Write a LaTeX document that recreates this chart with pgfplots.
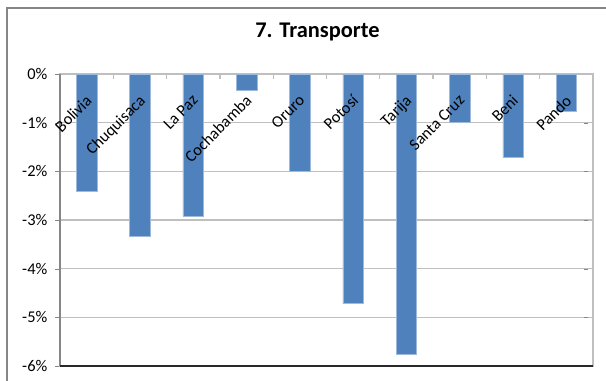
\documentclass[border=0pt]{standalone}
\usepackage{fontspec}
\setmainfont{Carlito}
\usepackage{pgfplots}
\pgfplotsset{compat=1.18}
\usetikzlibrary{calc}
\definecolor{barblue}{RGB}{79,129,189}
\definecolor{gridgray}{RGB}{191,191,191}
\definecolor{axisgray}{RGB}{134,134,134}
\definecolor{darkaxis}{RGB}{40,40,40}
\pgfplotsset{
  layers/labels over bars/.define layer set={
    axis background,axis grid,axis ticks,axis lines,pre main,main,
    axis tick labels,axis descriptions,axis foreground}{/pgfplots/layers/standard},
}

\begin{document}
\begin{tikzpicture}
\begin{axis}[
  name=ax,
  set layers=labels over bars,
  scale only axis,
  width=399.75pt, height=219pt,
  xmin=-0.5, xmax=9.5,
  ymin=-6, ymax=0,
  font=\fontsize{12.3}{14}\selectfont,
  /pgf/number format/assume math mode=true,
  title={7. Transporte},
  title style={at={(0.483,1)}, anchor=center, yshift=25.5pt,
    font=\bfseries\fontsize{16.8}{20}\selectfont},
  ytick={-6,-5,...,0},
  yticklabel={\pgfmathprintnumber{\tick}\%},
  yticklabel style={xshift=-6pt},
  ytick style={axisgray, xshift=-3.5pt},
  ymajorgrids,
  grid style={gridgray, line width=1.1pt},
  xtick={0,...,9},
  xticklabels={Bolivia,Chuquisaca,La Paz,Cochabamba,Oruro,Potosí,Tarija,Santa Cruz,Beni,Pando},
  xticklabel pos=upper,
  xtick pos=upper,
  xticklabel style={rotate=45, anchor=north east, yshift=-6pt, xshift=-8pt},
  major x tick style={draw=none},
  minor xtick={-0.5,0.5,...,9.5},
  minor x tick style={gridgray, line width=1pt},
  minor tick length=3.75pt,
  major tick length=3.5pt,
  axis line style={gridgray, line width=1.1pt},
  clip=false,
]
\addplot[ybar, bar width=15.4pt, fill=barblue, draw=barblue!55!white, line width=0.4pt]
  coordinates {(0,-2.40) (1,-3.33) (2,-2.92) (3,-0.34) (4,-2.00)
               (5,-4.72) (6,-5.75) (7,-0.99) (8,-1.72) (9,-0.76)};
\draw[axisgray, line width=1.1pt] (rel axis cs:0,0) -- (rel axis cs:0,1);
\draw[darkaxis, line width=1.1pt] (rel axis cs:0,0) -- (rel axis cs:1,0);
\end{axis}
\draw[axisgray, line width=1.2pt] ($(ax.north west)+(-39.75pt,49.5pt)$) rectangle ($(ax.south east)+(40pt,-40pt)$);
\pgfresetboundingbox
\path[use as bounding box] ($(ax.south west)+(-45pt,-11.25pt)$) rectangle ($(ax.north east)+(9.75pt,55.5pt)$);
\end{tikzpicture}
\end{document}
